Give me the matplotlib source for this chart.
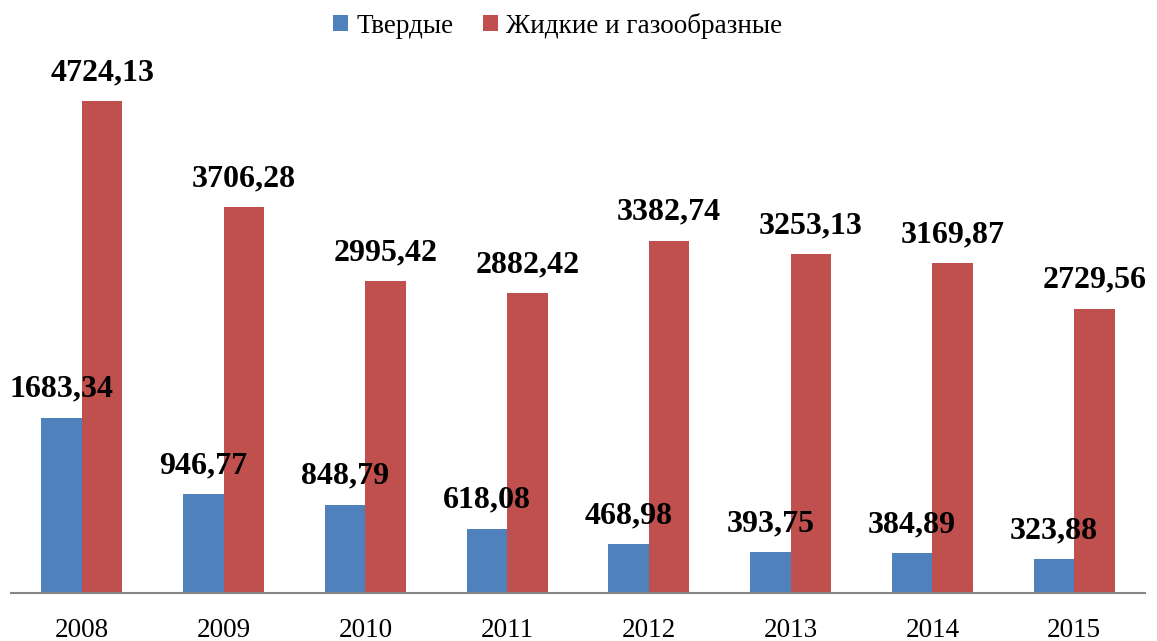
import matplotlib
matplotlib.use('Agg')
import matplotlib.pyplot as plt
import numpy as np

# data
years = ['2008', '2009', '2010', '2011', '2012', '2013', '2014', '2015']
solid = [1683.34, 946.77, 848.79, 618.08, 468.98, 393.75, 384.89, 323.88]
liquid_gas = [4724.13, 3706.28, 2995.42, 2882.42, 3382.74, 3253.13, 3169.87, 2729.56]
series_names = ['Твердые', 'Жидкие и газообразные']

plt.rcParams['font.family'] = ['Liberation Serif', 'DejaVu Serif']

fig = plt.figure(figsize=(11.57, 6.41), dpi=100)
ax = fig.add_axes([11/1157, 48/641, 1134/1157, 0.8123])

x = np.arange(len(years))
w = 0.286
b1 = ax.bar(x - w/2, solid, w, color='#4F81BD', label=series_names[0])
b2 = ax.bar(x + w/2, liquid_gas, w, color='#C0504D', label=series_names[1])

fmt = lambda v: f'{v:.2f}'.replace('.', ',')
for bars in (b1, b2):
    ax.bar_label(bars, labels=[fmt(b.get_height()) for b in bars], padding=10,
                 fontsize=23, fontweight='bold', color='black', clip_on=False)

ax.set_xlim(-0.5, len(years) - 0.5)
ax.set_ylim(0, 5000)
ax.set_xticks(x)
ax.set_xticklabels(years, fontsize=19.5)
ax.tick_params(axis='x', length=0, pad=18)
ax.set_yticks([])
for s in ('top', 'right', 'left'):
    ax.spines[s].set_visible(False)
ax.spines['bottom'].set_color('#868686')
ax.spines['bottom'].set_linewidth(1.5)

fig.legend(loc='upper center', bbox_to_anchor=(0.482, 1.018), ncol=2, frameon=False,
           fontsize=19.5, handlelength=0.55, handleheight=0.55, handletextpad=0.3,
           columnspacing=1.1)

fig.savefig('out.png', dpi=100)
